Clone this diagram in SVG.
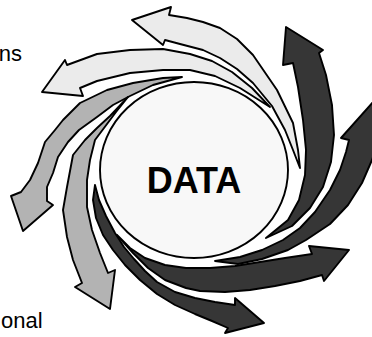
<svg xmlns="http://www.w3.org/2000/svg" width="372" height="337" viewBox="0 0 372 337">
<style>
.a{stroke:#000;stroke-width:1.9;stroke-linejoin:round}
.l{fill:#ebebeb}
.m{fill:#b3b3b3}
.d{fill:#363636}
.t{font-family:"Liberation Sans",Arial,sans-serif;fill:#000}
</style>
<rect width="372" height="337" fill="#fff"/>
<g id="connectors">
<path id="a1" class="a l" d="M300,168 L298,150 L293,123 L277,90 L253,55 L237,39 L220,28 L203,22 L187,18 L169,15 L171,7 L132,20 L163,45 L165,40 L180,44 L203,50 L220,58 L237,69 L253,83 L272,106 L285,130 L293,150 Z"/>
<path id="a2" class="a l" d="M270,107 L252,88 L232,72 L212,61 L190,54 L163,49 L130,50 L97,54 L67,65 L65,60 L42,92 L83,96 L80,88 L97,81 L130,73 L163,70 L190,70 L215,76 L240,88 Z"/>
<path id="a3" class="a m" d="M182,77 L163,78 L133,83 L107,90 L80,103 L63,120 L55,130 L45,142 L38,163 L30,180 L21,192 L11,196 L23,231 L53,205 L47,201 L47,187 L53,173 L58,157 L68,142 L79,130 L97,117 L113,105 L130,96 L153,85 Z"/>
<path id="a4" class="a m" d="M128,97 L110,116 L97,128 L85,140 L73,155 L67,187 L63,210 L67,237 L73,260 L82,283 L75,287 L110,309 L115,270 L108,273 L100,253 L92,230 L87,207 L87,180 L90,160 L95,140 L104,128 L116,112 Z"/>
<path id="a5" class="a d" d="M95,185 L93,200 L96,218 L103,235 L113,250 L125,265 L140,280 L157,294 L175,305 L195,314 L212,321 L228,328 L225,333 L264,323 L235,298 L235,305 L215,302 L195,298 L175,292 L157,282 L145,271 L134,259 L124,247 L115,233 L106,216 L99,200 Z"/>
<path id="a6" class="a d" d="M117,235 L130,248 L145,258 L165,265 L186,268 L210,268 L235,266 L260,262 L285,258 L312,254 L309,246 L349,250 L324,281 L322,275 L300,281 L275,286 L250,290 L225,292 L200,291 L186,288 L165,280 L148,268 L133,253 Z"/>
<path id="a7" class="a d" d="M266,238 L288,220 L299,200 L305,175 L306,150 L303,120 L298,87 L293,63 L283,65 L286,27 L323,50 L319,53 L326,75 L332,105 L334,135 L331,162 L323,187 L310,208 L292,226 Z"/>
<path id="a8" class="a d" d="M215,261 L240,257 L262,250 L283,240 L300,228 L315,212 L330,190 L340,170 L346,152 L349,140 L341,138 L382,92 L398,140 L377,145 L372,160 L362,183 L348,205 L330,224 L306,240 L288,250 L262,259 L238,264 Z"/>
</g>
<g id="data">
<ellipse cx="194" cy="170" rx="94" ry="88" fill="#f8f8f8" stroke="#000" stroke-width="1.9"/>
<text class="t" x="194" y="193" font-size="36" font-weight="bold" text-anchor="middle">DATA</text>
</g>
<g id="label-top">
<text class="t" x="22" y="61" font-size="22" text-anchor="end">ns</text>
</g>
<g id="label-bottom">
<text class="t" x="1" y="328" font-size="22">onal</text>
</g>
</svg>
